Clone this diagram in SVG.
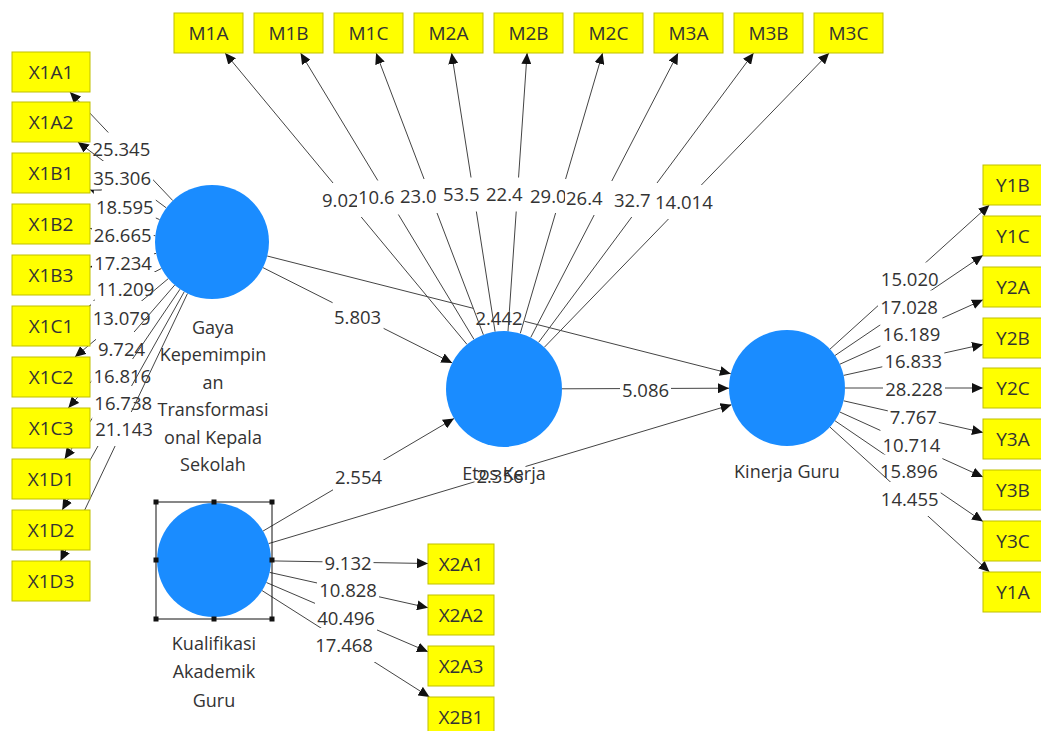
<svg xmlns="http://www.w3.org/2000/svg" width="1041" height="731" viewBox="0 0 1041 731">
<defs>
<style>
.bg{fill:#fff}
.c line{stroke:#444;stroke-width:1;fill:none;marker-end:url(#ah)}
.c rect{fill:#fff}
.c text{font-family:"Open Sans","Liberation Sans",sans-serif;font-size:18.5px;fill:#333;text-anchor:middle}
.c text.s{text-anchor:start}
.ind rect{fill:#ffff00;stroke:#bfbf00;stroke-width:1}
.ind text{font-family:"Open Sans","Liberation Sans",sans-serif;font-size:19px;fill:#333;text-anchor:middle}
.lv circle{fill:#1a8cff}
.lv text{font-family:"Open Sans","Liberation Sans",sans-serif;font-size:18px;fill:#333;text-anchor:middle}
.sel{fill:none;stroke:#111;stroke-width:1}
.hd{fill:#111}
</style>
<marker id="ah" markerUnits="userSpaceOnUse" markerWidth="11" markerHeight="10" refX="11" refY="5" orient="auto"><path d="M0,0 L11,5 L0,10 Z" fill="#111"/></marker>
</defs>
<rect class="bg" x="0" y="0" width="1041" height="731"/>

<g id="connectors" class="c">
  <!-- structural paths -->
  <g><line x1="262.9" y1="267.6" x2="452.2" y2="362.9"/><rect x="332.6" y="300.5" width="51" height="34"/><text x="357.6" y="324.1">5.803</text></g>
  <g><line x1="267.2" y1="256" x2="730.8" y2="373.7"/><rect x="473.5" y="301" width="51" height="34"/><text x="499" y="324.6">2.442</text></g>
  <g><line x1="263.1" y1="531" x2="454" y2="418.5"/><rect x="333" y="460" width="51" height="34"/><text x="358.5" y="483.6">2.554</text></g>
  <g><line x1="268.6" y1="543.6" x2="731.5" y2="404.7"/><rect x="474.5" y="459" width="51" height="34"/><text x="500" y="482.6">2.356</text></g>
  <g><line x1="562" y1="388.8" x2="729" y2="388.2"/><rect x="620" y="373" width="51" height="34"/><text x="645.5" y="396.6">5.086</text></g>

  <!-- Etos Kerja -> M indicators -->
  <g><line x1="467" y1="344.4" x2="225.1" y2="53"/><rect x="321" y="183" width="51" height="34"/><text class="s" x="322" y="206.6">9.02</text></g>
  <g><line x1="474" y1="339.4" x2="300.6" y2="53"/><rect x="357" y="180.5" width="62" height="34"/><text class="s" x="358" y="204.1">10.6</text></g>
  <g><line x1="483.4" y1="334.8" x2="376.1" y2="53"/><rect x="399" y="179" width="62" height="34"/><text class="s" x="400" y="202.6">23.0</text></g>
  <g><line x1="495.1" y1="331.7" x2="451.6" y2="53"/><rect x="442" y="177.5" width="62" height="34"/><text class="s" x="443" y="201.1">53.5</text></g>
  <g><line x1="508" y1="331.1" x2="527.1" y2="53"/><rect x="485" y="177.5" width="62" height="34"/><text class="s" x="486" y="201.1">22.4</text></g>
  <g><line x1="520.3" y1="333.3" x2="602.6" y2="53"/><rect x="529" y="179" width="62" height="34"/><text class="s" x="530" y="202.6">29.0</text></g>
  <g><line x1="530.7" y1="337.5" x2="678.1" y2="53"/><rect x="565" y="181" width="62" height="34"/><text class="s" x="566" y="204.6">26.4</text></g>
  <g><line x1="538.6" y1="342.4" x2="753.6" y2="53"/><rect x="613" y="183" width="62" height="34"/><text class="s" x="614" y="206.6">32.7</text></g>
  <g><line x1="544.3" y1="347.3" x2="829.1" y2="53"/><rect x="654" y="185" width="62" height="34"/><text class="s" x="655" y="208.6">14.014</text></g>

  <!-- Gaya -> X1 indicators -->
  <g><line x1="172.8" y1="200.6" x2="69.9" y2="92"/><rect x="90.4" y="132.5" width="62" height="34"/><text x="121.4" y="156.1">25.345</text></g>
  <g><line x1="166.3" y1="207.9" x2="77.8" y2="142"/><rect x="91.1" y="161" width="62" height="34"/><text x="122.1" y="184.6">35.306</text></g>
  <g><line x1="159.6" y1="219.6" x2="90" y2="189.7"/><rect x="93.8" y="190.5" width="62" height="34"/><text x="124.8" y="214.1">18.595</text></g>
  <g><line x1="155.4" y1="235.7" x2="90" y2="228.4"/><rect x="91.7" y="218" width="62" height="34"/><text x="122.7" y="241.6">26.665</text></g>
  <g><line x1="156.1" y1="253.4" x2="90" y2="267"/><rect x="92" y="246" width="62" height="34"/><text x="123" y="269.6">17.234</text></g>
  <g><line x1="161.5" y1="268.4" x2="89.3" y2="306"/><rect x="94.4" y="272" width="62" height="34"/><text x="125.4" y="295.6">11.209</text></g>
  <g><line x1="168.3" y1="278.6" x2="74.9" y2="357"/><rect x="90.6" y="301" width="62" height="34"/><text x="121.6" y="324.6">13.079</text></g>
  <g><line x1="174.7" y1="285.1" x2="68.3" y2="408"/><rect x="96" y="332" width="51" height="34"/><text x="121.5" y="355.6">9.724</text></g>
  <g><line x1="180" y1="289.2" x2="64.6" y2="459"/><rect x="91.3" y="359" width="62" height="34"/><text x="122.3" y="382.6">16.816</text></g>
  <g><line x1="184.2" y1="291.8" x2="62.2" y2="510"/><rect x="92.2" y="386" width="62" height="34"/><text x="123.2" y="409.6">16.738</text></g>
  <g><line x1="187.5" y1="293.5" x2="60.5" y2="561"/><rect x="93" y="412" width="62" height="34"/><text x="124" y="435.6">21.143</text></g>

  <!-- Kinerja -> Y indicators -->
  <g><line x1="830" y1="349.1" x2="989.4" y2="205"/><rect x="878.7" y="262.5" width="62" height="34"/><text x="909.7" y="286.1">15.020</text></g>
  <g><line x1="835" y1="355.5" x2="983" y2="255.3"/><rect x="878" y="290.5" width="62" height="34"/><text x="909" y="314.1">17.028</text></g>
  <g><line x1="839.9" y1="364.2" x2="983" y2="299.8"/><rect x="880.4" y="317" width="62" height="34"/><text x="911.4" y="340.6">16.189</text></g>
  <g><line x1="843.6" y1="375.4" x2="983" y2="344.4"/><rect x="882.3" y="344.5" width="62" height="34"/><text x="913.3" y="368.1">16.833</text></g>
  <g><line x1="845" y1="388" x2="983" y2="388"/><rect x="883" y="372" width="62" height="34"/><text x="914" y="395.6">28.228</text></g>
  <g><line x1="843.6" y1="400.8" x2="983" y2="432.5"/><rect x="887.8" y="400" width="51" height="34"/><text x="913.3" y="423.6">7.767</text></g>
  <g><line x1="839.8" y1="412" x2="983" y2="477"/><rect x="880.4" y="428" width="62" height="34"/><text x="911.4" y="451.6">10.714</text></g>
  <g><line x1="834.9" y1="420.7" x2="983" y2="521.6"/><rect x="877.9" y="454.5" width="62" height="34"/><text x="908.9" y="478.1">15.896</text></g>
  <g><line x1="829.9" y1="427" x2="989.5" y2="572"/><rect x="878.7" y="482" width="62" height="34"/><text x="909.7" y="505.6">14.455</text></g>

  <!-- Kualifikasi -> X2 indicators -->
  <g><line x1="271" y1="560.9" x2="428" y2="563.5"/><rect x="322.5" y="546" width="51" height="34"/><text x="348" y="569.6">9.132</text></g>
  <g><line x1="269.6" y1="572.4" x2="428" y2="607.7"/><rect x="317" y="573" width="62" height="34"/><text x="348" y="596.6">10.828</text></g>
  <g><line x1="266.4" y1="582.5" x2="428" y2="651.8"/><rect x="315" y="601" width="62" height="34"/><text x="346" y="624.6">40.496</text></g>
  <g><line x1="262.1" y1="590.6" x2="429.5" y2="697"/><rect x="313" y="628" width="62" height="34"/><text x="344" y="651.6">17.468</text></g>
</g>

<g id="node-gaya" class="lv">
  <circle cx="212" cy="242" r="57"/>
  <text x="213" y="333.5">Gaya</text>
  <text x="213" y="361">Kepemimpin</text>
  <text x="213" y="388.5">an</text>
  <text x="213" y="416">Transformasi</text>
  <text x="213" y="443.5">onal Kepala</text>
  <text x="213" y="471">Sekolah</text>
</g>
<g id="node-etos" class="lv">
  <circle cx="504" cy="389" r="58"/>
  <text x="504" y="479.5">Etos Kerja</text>
</g>
<g id="node-kinerja" class="lv">
  <circle cx="787" cy="388" r="58"/>
  <text x="787" y="478.3">Kinerja Guru</text>
</g>
<g id="node-kualifikasi" class="lv">
  <circle cx="214" cy="560" r="57"/>
  <rect class="sel" x="156" y="502" width="116" height="117"/>
  <rect class="hd" x="153.5" y="499.5" width="5" height="5"/>
  <rect class="hd" x="211.5" y="499.5" width="5" height="5"/>
  <rect class="hd" x="269.5" y="499.5" width="5" height="5"/>
  <rect class="hd" x="153.5" y="557.5" width="5" height="5"/>
  <rect class="hd" x="269.5" y="557.5" width="5" height="5"/>
  <rect class="hd" x="153.5" y="616.5" width="5" height="5"/>
  <rect class="hd" x="211.5" y="616.5" width="5" height="5"/>
  <rect class="hd" x="269.5" y="616.5" width="5" height="5"/>
  <text x="214" y="649.5">Kualifikasi</text>
  <text x="214" y="678">Akademik</text>
  <text x="214" y="706.5">Guru</text>
</g>

<g id="node-M1A" class="ind"><rect x="174" y="13" width="69" height="40"/><text x="208.5" y="39.8">M1A</text></g>
<g id="node-M1B" class="ind"><rect x="254" y="13" width="69" height="40"/><text x="288.5" y="39.8">M1B</text></g>
<g id="node-M1C" class="ind"><rect x="334" y="13" width="69" height="40"/><text x="368.5" y="39.8">M1C</text></g>
<g id="node-M2A" class="ind"><rect x="414" y="13" width="69" height="40"/><text x="448.5" y="39.8">M2A</text></g>
<g id="node-M2B" class="ind"><rect x="494" y="13" width="69" height="40"/><text x="528.5" y="39.8">M2B</text></g>
<g id="node-M2C" class="ind"><rect x="574" y="13" width="69" height="40"/><text x="608.5" y="39.8">M2C</text></g>
<g id="node-M3A" class="ind"><rect x="654" y="13" width="69" height="40"/><text x="688.5" y="39.8">M3A</text></g>
<g id="node-M3B" class="ind"><rect x="734" y="13" width="69" height="40"/><text x="768.5" y="39.8">M3B</text></g>
<g id="node-M3C" class="ind"><rect x="814" y="13" width="69" height="40"/><text x="848.5" y="39.8">M3C</text></g>

<g id="node-X1A1" class="ind"><rect x="12" y="52" width="78" height="40"/><text x="51" y="78.8">X1A1</text></g>
<g id="node-X1A2" class="ind"><rect x="12" y="102" width="78" height="40"/><text x="51" y="128.8">X1A2</text></g>
<g id="node-X1B1" class="ind"><rect x="12" y="153" width="78" height="40"/><text x="51" y="179.8">X1B1</text></g>
<g id="node-X1B2" class="ind"><rect x="12" y="204" width="78" height="40"/><text x="51" y="230.8">X1B2</text></g>
<g id="node-X1B3" class="ind"><rect x="12" y="255" width="78" height="40"/><text x="51" y="281.8">X1B3</text></g>
<g id="node-X1C1" class="ind"><rect x="12" y="306" width="78" height="40"/><text x="51" y="332.8">X1C1</text></g>
<g id="node-X1C2" class="ind"><rect x="12" y="357" width="78" height="40"/><text x="51" y="383.8">X1C2</text></g>
<g id="node-X1C3" class="ind"><rect x="12" y="408" width="78" height="40"/><text x="51" y="434.8">X1C3</text></g>
<g id="node-X1D1" class="ind"><rect x="12" y="459" width="78" height="40"/><text x="51" y="485.8">X1D1</text></g>
<g id="node-X1D2" class="ind"><rect x="12" y="510" width="78" height="40"/><text x="51" y="536.8">X1D2</text></g>
<g id="node-X1D3" class="ind"><rect x="12" y="561" width="78" height="40"/><text x="51" y="587.8">X1D3</text></g>

<g id="node-Y1B" class="ind"><rect x="983" y="165" width="62" height="40"/><text x="1013" y="191.8">Y1B</text></g>
<g id="node-Y1C" class="ind"><rect x="983" y="216" width="62" height="40"/><text x="1013" y="242.8">Y1C</text></g>
<g id="node-Y2A" class="ind"><rect x="983" y="267" width="62" height="40"/><text x="1013" y="293.8">Y2A</text></g>
<g id="node-Y2B" class="ind"><rect x="983" y="318" width="62" height="40"/><text x="1013" y="344.8">Y2B</text></g>
<g id="node-Y2C" class="ind"><rect x="983" y="368" width="62" height="40"/><text x="1013" y="394.8">Y2C</text></g>
<g id="node-Y3A" class="ind"><rect x="983" y="419" width="62" height="40"/><text x="1013" y="445.8">Y3A</text></g>
<g id="node-Y3B" class="ind"><rect x="983" y="470" width="62" height="40"/><text x="1013" y="496.8">Y3B</text></g>
<g id="node-Y3C" class="ind"><rect x="983" y="521" width="62" height="40"/><text x="1013" y="547.8">Y3C</text></g>
<g id="node-Y1A" class="ind"><rect x="983" y="572" width="62" height="40"/><text x="1013" y="598.8">Y1A</text></g>

<g id="node-X2A1" class="ind"><rect x="428" y="544" width="66" height="40"/><text x="461" y="570.8">X2A1</text></g>
<g id="node-X2A2" class="ind"><rect x="428" y="595" width="66" height="40"/><text x="461" y="621.8">X2A2</text></g>
<g id="node-X2A3" class="ind"><rect x="428" y="646" width="66" height="40"/><text x="461" y="672.8">X2A3</text></g>
<g id="node-X2B1" class="ind"><rect x="428" y="697" width="66" height="40"/><text x="461" y="723.8">X2B1</text></g>
</svg>
